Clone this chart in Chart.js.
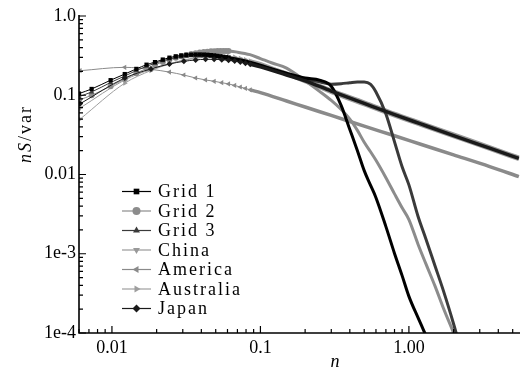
<!DOCTYPE html>
<html>
<head>
<meta charset="utf-8">
<script src="https://cdn.jsdelivr.net/npm/chart.js@4/dist/chart.umd.min.js"></script>
<style>
  html, body { margin: 0; padding: 0; background: #fff; }
  #wrap { width: 524px; height: 372px; position: relative; }
</style>
</head>
<body>
<div id="wrap"><canvas id="chart"></canvas></div>
<script>
// -----------------------------
// DATA
// -----------------------------
// frequency steps of the simulated grids (dense) and of the code spectra
const gridLowN = [0.006, 0.0073, 0.0098, 0.0122, 0.0146, 0.0171, 0.0195, 0.022, 0.0244, 0.0269, 0.0293, 0.0317,
  0.0342, 0.0366, 0.039, 0.0415, 0.0439, 0.0464, 0.0488, 0.0513, 0.0537, 0.0562, 0.0586, 0.061];
const gridHighN = [0.07, 0.085, 0.1, 0.12, 0.15, 0.2, 0.25, 0.3, 0.35, 0.4, 0.45, 0.5, 0.55, 0.6, 0.7, 0.8, 0.9,
  1.0, 1.15, 1.3, 1.5, 1.7, 2.0, 2.3];
const codeLowN = [0.0061, 0.0122, 0.0183, 0.0244, 0.0305, 0.0366, 0.0427, 0.0488, 0.0549, 0.061, 0.0671, 0.0732,
  0.0793, 0.0854];
const codeHighN = [0.1, 0.15, 0.2, 0.3, 0.5, 0.8, 1.2, 2, 3.5, 5.5];

const grid1Low = [0.105, 0.12, 0.155, 0.185, 0.215, 0.243, 0.262, 0.282, 0.298, 0.31, 0.318, 0.323, 0.326, 0.327,
  0.327, 0.326, 0.324, 0.321, 0.318, 0.314, 0.31, 0.306, 0.302, 0.298];
const grid1High = [0.285, 0.262, 0.24, 0.215, 0.19, 0.165, 0.155, 0.13, 0.074, 0.037, 0.02, 0.0112, 0.0074, 0.0051,
  0.0022, 0.00101, 0.00053, 0.00029, 0.000157, 0.000094, null, null, null, null];

const grid2Low = [0.087, 0.1, 0.13, 0.16, 0.19, 0.218, 0.242, 0.263, 0.282, 0.298, 0.311, 0.322, 0.332, 0.34,
  0.346, 0.351, 0.355, 0.358, 0.36, 0.362, 0.363, 0.363, 0.362, 0.361];
const grid2High = [0.35, 0.325, 0.29, 0.255, 0.22, 0.152, 0.112, 0.086, 0.066, 0.05, 0.036, 0.0255, 0.0195, 0.0151,
  0.0091, 0.0057, 0.0038, 0.0027, 0.00133, 0.00075, 0.00039, 0.00021, 0.0001, 0.00005];

const grid3Low = [0.096, 0.11, 0.145, 0.175, 0.205, 0.232, 0.253, 0.272, 0.287, 0.298, 0.306, 0.311, 0.314, 0.315,
  0.315, 0.314, 0.312, 0.309, 0.306, 0.302, 0.298, 0.294, 0.29, 0.286];
const grid3High = [0.275, 0.255, 0.235, 0.21, 0.185, 0.16, 0.148, 0.138, 0.14, 0.144, 0.147, 0.147, 0.138, 0.11,
  0.058, 0.0258, 0.0125, 0.0074, 0.003, 0.00155, 0.0007, 0.00035, 0.00013, 0.00005];

const chinaLow = [0.069, 0.156, 0.212, 0.25, 0.276, 0.293, 0.303, 0.307, 0.306, 0.301, 0.294, 0.285, 0.275, 0.265];
const chinaHigh = [0.24, 0.19, 0.157, 0.116, 0.082, 0.059, 0.0452, 0.0322, 0.0223, 0.0165];

const americaLow = [0.204, 0.225, 0.212, 0.196, 0.18, 0.165, 0.156, 0.15, 0.144, 0.139, 0.133, 0.127, 0.122, 0.117];
const americaHigh = [0.108, 0.0846, 0.071, 0.0556, 0.0408, 0.0308, 0.0241, 0.0177, 0.0126, 0.0094];

const australiaLow = [0.05, 0.142, 0.205, 0.248, 0.278, 0.298, 0.31, 0.315, 0.315, 0.311, 0.303, 0.293, 0.282, 0.271];
const australiaHigh = [0.25, 0.185, 0.149, 0.109, 0.076, 0.0548, 0.042, 0.0301, 0.0209, 0.0155];

const japanLow = [0.078, 0.165, 0.215, 0.248, 0.268, 0.279, 0.284, 0.284, 0.281, 0.276, 0.27, 0.262, 0.254, 0.246];
const japanHigh = [0.228, 0.18, 0.152, 0.113, 0.079, 0.057, 0.0435, 0.031, 0.0215, 0.016];

// tick labels
const xTickValues = [0.01, 0.1, 1];
const xTickLabels = ["0.01", "0.1", "1.00"];
const yTickValues = [1, 0.1, 0.01, 0.001, 0.0001];
const yTickLabels = ["1.0", "0.1", "0.01", "1e-3", "1e-4"];
const xMinorTicks = [0.006, 0.007, 0.008, 0.009, 0.02, 0.03, 0.04, 0.05, 0.06, 0.07, 0.08, 0.09,
  0.2, 0.3, 0.4, 0.5, 0.6, 0.7, 0.8, 0.9, 2, 3, 4, 5];
const yMinorTicks = [];
[0.0001, 0.001, 0.01, 0.1].forEach((d) => {
  for (let k = 2; k <= 9; k++) yMinorTicks.push(+(d * k).toPrecision(3));
});

// -----------------------------
// SERIES
// -----------------------------
const FONT = "'Liberation Serif', 'Times New Roman', serif";

function pts(nA, vA, nB, vB) {
  const out = [];
  nA.forEach((n, i) => out.push({ x: n, y: vA[i] }));
  nB.forEach((n, i) => { if (vB[i] != null) out.push({ x: n, y: vB[i] }); });
  return out;
}

// order: lower is drawn later (on top)
const series = [
  { label: "Grid 1", data: pts(gridLowN, grid1Low, gridHighN, grid1High), color: "#000000", style: "rect", rot: 0, markMax: 0.062, order: 1, thick: 3 },
  { label: "Grid 2", data: pts(gridLowN, grid2Low, gridHighN, grid2High), color: "#8c8c8c", style: "circle", rot: 0, markMax: 0.062, order: 3, thick: 3 },
  { label: "Grid 3", data: pts(gridLowN, grid3Low, gridHighN, grid3High), color: "#3a3a3a", style: "triangle", rot: 0, markMax: 0.062, order: 2, thick: 3 },
  { label: "China", data: pts(codeLowN, chinaLow, codeHighN, chinaHigh), color: "#999999", style: "triangle", rot: 180, markMax: 0.086, order: 5, thick: 3.5 },
  { label: "America", data: pts(codeLowN, americaLow, codeHighN, americaHigh), color: "#8a8a8a", style: "triangle", rot: 270, markMax: 0.086, order: 4, thick: 3.5 },
  { label: "Australia", data: pts(codeLowN, australiaLow, codeHighN, australiaHigh), color: "#9e9e9e", style: "triangle", rot: 90, markMax: 0.086, order: 6, thick: 3.5 },
  { label: "Japan", data: pts(codeLowN, japanLow, codeHighN, japanHigh), color: "#1a1a1a", style: "rectRot", rot: 0, markMax: 0.086, order: 0, thick: 3.5 },
];

const datasets = series.map((s) => ({
  label: s.label,
  data: s.data,
  order: s.order,
  borderColor: s.color,
  backgroundColor: s.color,
  borderWidth: 1,
  pointStyle: s.style,
  pointRotation: s.rot,
  pointRadius: (ctx) => (ctx.raw && ctx.raw.x <= s.markMax ? 3 : 0),
  pointBorderWidth: 0,
  cubicInterpolationMode: "monotone",
  segment: {
    borderWidth: (ctx) => (ctx.p0.parsed.x >= s.markMax - 0.002 ? s.thick : 1),
  },
  fill: false,
}));

// -----------------------------
// AXES, TICKS, TITLES, LEGEND
// -----------------------------
const decor = {
  id: "decor",
  afterDraw(chart) {
    const { ctx, chartArea: a, scales } = chart;
    const x = scales.x, y = scales.y;
    ctx.save();

    // axis lines
    ctx.strokeStyle = "#000";
    ctx.lineWidth = 1.6;
    ctx.beginPath();
    ctx.moveTo(a.left, a.top - 1);
    ctx.lineTo(a.left, a.bottom);
    ctx.lineTo(a.right, a.bottom);
    ctx.stroke();

    // inward ticks
    ctx.lineWidth = 1.2;
    ctx.beginPath();
    xTickValues.forEach((v) => { const p = x.getPixelForValue(v); ctx.moveTo(p, a.bottom); ctx.lineTo(p, a.bottom - 7); });
    xMinorTicks.forEach((v) => { const p = x.getPixelForValue(v); ctx.moveTo(p, a.bottom); ctx.lineTo(p, a.bottom - 4); });
    yTickValues.forEach((v) => { const p = y.getPixelForValue(v); ctx.moveTo(a.left, p); ctx.lineTo(a.left + 7, p); });
    yMinorTicks.forEach((v) => { const p = y.getPixelForValue(v); ctx.moveTo(a.left, p); ctx.lineTo(a.left + 4, p); });
    ctx.stroke();

    // axis titles
    ctx.fillStyle = "#000";
    ctx.textBaseline = "middle";
    ctx.font = "italic 18px " + FONT;
    ctx.textAlign = "center";
    ctx.fillText("n", 335, 362);

    ctx.save();
    ctx.translate(26, 134);
    ctx.rotate(-Math.PI / 2);
    const parts = [["n", "italic 18px "], ["S", "italic 18px "], ["/var", "18px "]];
    ctx.letterSpacing = "2px";
    let total = 0;
    parts.forEach(([t, f]) => { ctx.font = f + FONT; total += ctx.measureText(t).width; });
    let cx = -total / 2;
    ctx.textAlign = "left";
    parts.forEach(([t, f]) => { ctx.font = f + FONT; ctx.fillText(t, cx, 0); cx += ctx.measureText(t).width; });
    ctx.restore();

    // legend
    const lx0 = 122, lx1 = 151, tx = 158, ly0 = 191.5, dy = 19.5;
    series.forEach((s, i) => {
      const yy = ly0 + i * dy;
      ctx.strokeStyle = s.color;
      ctx.lineWidth = 1.2;
      ctx.beginPath();
      ctx.moveTo(lx0, yy);
      ctx.lineTo(lx1, yy);
      ctx.stroke();
      ctx.fillStyle = s.color;
      Chart.helpers.drawPoint(ctx, { pointStyle: s.style, rotation: s.rot, radius: 4, borderWidth: 0 }, (lx0 + lx1) / 2, yy);
      ctx.fillStyle = "#000";
      ctx.font = "18px " + FONT;
      ctx.letterSpacing = "2px";
      ctx.textAlign = "left";
      ctx.fillText(s.label, tx, yy + 1);
    });
    ctx.restore();
  },
};

new Chart(document.getElementById("chart"), {
  type: "line",
  data: { datasets },
  options: {
    responsive: true,
    maintainAspectRatio: false,
    animation: false,
    events: [],
    layout: { padding: { top: 16, right: 0, left: 0, bottom: 0 } },
    plugins: { legend: { display: false }, tooltip: { enabled: false } },
    scales: {
      x: {
        type: "logarithmic",
        min: 0.006,
        max: 5.6,
        afterBuildTicks: (sc) => { sc.ticks = xTickValues.map((v) => ({ value: v })); },
        afterFit: (sc) => { sc.height = 39; },
        grid: { display: false, drawTicks: false },
        border: { display: false },
        ticks: {
          autoSkip: false,
          maxRotation: 0,
          padding: 4,
          color: "#000",
          font: { family: FONT, size: 18 },
          callback: (v) => xTickLabels[xTickValues.indexOf(v)] ?? "",
        },
      },
      y: {
        type: "logarithmic",
        min: 0.0001,
        max: 1,
        afterBuildTicks: (sc) => { sc.ticks = yTickValues.map((v) => ({ value: v })); },
        afterFit: (sc) => { sc.width = 79; },
        grid: { display: false, drawTicks: false },
        border: { display: false },
        ticks: {
          autoSkip: false,
          padding: 3,
          color: "#000",
          font: { family: FONT, size: 18 },
          callback: (v) => yTickLabels[yTickValues.indexOf(v)] ?? "",
        },
      },
    },
  },
  plugins: [decor],
});
</script>
</body>
</html>
